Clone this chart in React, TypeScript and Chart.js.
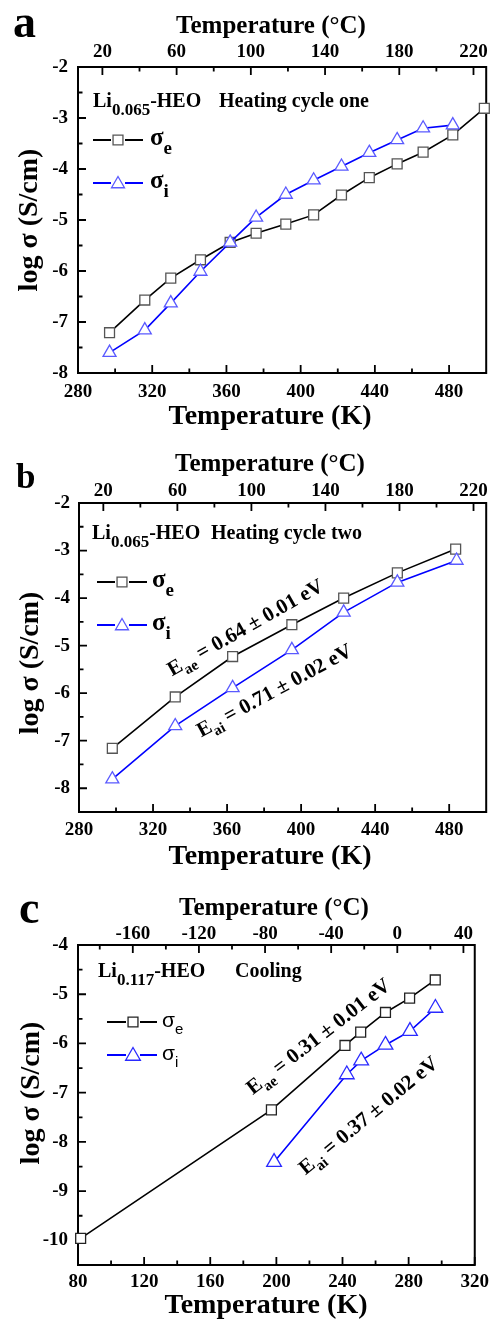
import React, { useEffect, useRef } from 'react';
import { Chart, registerables } from 'chart.js';

Chart.register(...registerables);

const SERIF = '"Liberation Serif", "Times New Roman", serif';
const SANS = '"Liberation Sans", Arial, sans-serif';
const W = 495;

// ---------- Panel a : Li0.065-HEO heating cycle one ----------
const aTempE = [297, 316, 330, 346, 362, 376, 392, 407, 422, 437, 452, 466, 482, 499];
const aLogSigmaE = [-7.21, -6.57, -6.14, -5.78, -5.44, -5.26, -5.08, -4.9, -4.51, -4.17, -3.9, -3.67, -3.33, -2.81];
const aTempI = [297, 316, 330, 346, 362, 376, 392, 407, 422, 437, 452, 466, 482];
const aLogSigmaI = [-7.6, -7.16, -6.63, -6.01, -5.44, -4.95, -4.5, -4.22, -3.95, -3.68, -3.43, -3.2, -3.14];

// ---------- Panel b : Li0.065-HEO heating cycle two ----------
const bTempE = [298, 332, 363, 395, 423, 452, 483.5];
const bLogSigmaE = [-7.16, -6.08, -5.23, -4.56, -4.0, -3.47, -2.97];
const bTempI = [298, 332, 363, 395, 423, 452, 484];
const bLogSigmaI = [-7.81, -6.69, -5.89, -5.09, -4.3, -3.67, -3.21];

// ---------- Panel c : Li0.117-HEO cooling ----------
const cTempE = [81.6, 197, 241.5, 251, 266, 280.6, 296.1];
const cLogSigmaE = [-9.96, -7.35, -6.04, -5.77, -5.37, -5.08, -4.71];
const cTempI = [198.6, 242.6, 251.3, 266, 280.8, 296.2];
const cLogSigmaI = [-8.41, -6.63, -6.35, -6.03, -5.75, -5.28];

// ---------- Tick values ----------
const kMajorAB = [280, 320, 360, 400, 440, 480];
const kMinorAB = [300, 340, 380, 420, 460];
const degMajorAB = [20, 60, 100, 140, 180, 220];
const degMinorAB = [40, 80, 120, 160, 200];
const yMajorAB = [-2, -3, -4, -5, -6, -7, -8];
const yMinorA = [-2.5, -3.5, -4.5, -5.5, -6.5, -7.5];
const yMinorB = [-2.5, -3.5, -4.5, -5.5, -6.5, -7.5];
const kMajorC = [80, 120, 160, 200, 240, 280, 320];
const kMinorC = [100, 140, 180, 220, 260, 300];
const degMajorC = [-160, -120, -80, -40, 0, 40];
const degMinorC = [-180, -140, -100, -60, -20, 20];
const yMajorC = [-4, -5, -6, -7, -8, -9, -10];
const yMinorC = [-4.5, -5.5, -6.5, -7.5, -8.5, -9.5];

type Seg = { t: string; size: number; dy?: number; family?: string; weight?: string };
type Anno = { segs: Seg[]; x: number; y: number; angle: number; cap: number };

type Panel = {
  pageTop: number;
  height: number;
  area: { left: number; top: number; right: number; bottom: number };
  xMin: number; xMax: number; yMin: number; yMax: number;
  kMajor: number[]; kMinor: number[]; degMajor: number[]; degMinor: number[];
  yMajor: number[]; yMinor: number[];
  pad: { top: number; bottom: number; left: number };
  eX: number[]; eY: number[]; iX: number[]; iY: number[];
  sqColor: string; triColor: string; triR: number;
  letter: string; letterSize: number; letterX: number; letterY: number;
  topTitleX: number; topTitleY: number;
  botTitleX: number; botTitleY: number;
  yTitleX: number; yTitleY: number;
  legTitle: Seg[]; legTitleX: number; legTitleY: number;
  legTitle2: string; legTitle2X: number;
  legend: { x1: number; x2: number; mx: number; tx: number; yE: number; yI: number; sans: boolean };
  annos: Anno[];
};

const fontOf = (s: Seg) => `${s.weight ?? 'bold'} ${s.size}px ${s.family ?? SERIF}`;

function drawRich(ctx: CanvasRenderingContext2D, segs: Seg[], x: number, y: number, center: boolean) {
  const widths = segs.map((s) => {
    ctx.font = fontOf(s);
    return ctx.measureText(s.t).width;
  });
  const total = widths.reduce((a, b) => a + b, 0);
  let cx = center ? x - total / 2 : x;
  ctx.textAlign = 'left';
  ctx.textBaseline = 'alphabetic';
  segs.forEach((s, i) => {
    ctx.font = fontOf(s);
    ctx.fillText(s.t, cx, y + (s.dy ?? 0));
    cx += widths[i];
  });
}

function drawSquare(ctx: CanvasRenderingContext2D, x: number, y: number, r: number, color: string) {
  const h = r * Math.SQRT1_2;
  ctx.fillStyle = '#fff';
  ctx.strokeStyle = color;
  ctx.lineWidth = 1.3;
  ctx.beginPath();
  ctx.rect(x - h, y - h, 2 * h, 2 * h);
  ctx.fill();
  ctx.stroke();
}

function drawTriangle(ctx: CanvasRenderingContext2D, x: number, y: number, r: number, color: string) {
  ctx.fillStyle = '#fff';
  ctx.strokeStyle = color;
  ctx.lineWidth = 1.3;
  ctx.beginPath();
  ctx.moveTo(x, y - r);
  ctx.lineTo(x + r * Math.sin((2 * Math.PI) / 3), y + r / 2);
  ctx.lineTo(x - r * Math.sin((2 * Math.PI) / 3), y + r / 2);
  ctx.closePath();
  ctx.fill();
  ctx.stroke();
}

const eaSeg = (sub: string, rest: string): Seg[] => [
  { t: 'E', size: 21 },
  { t: sub, size: 15, dy: 6 },
  { t: rest, size: 21 },
];

const panels: Panel[] = [
  {
    pageTop: 0, height: 435,
    area: { left: 78, top: 67, right: 488, bottom: 373 },
    xMin: 280, xMax: 500, yMin: -8, yMax: -2,
    kMajor: kMajorAB, kMinor: kMinorAB, degMajor: degMajorAB, degMinor: degMinorAB,
    yMajor: yMajorAB, yMinor: yMinorA,
    pad: { top: 4, bottom: 8, left: 10 },
    eX: aTempE, eY: aLogSigmaE, iX: aTempI, iY: aLogSigmaI,
    sqColor: '#555', triColor: '#5a5aff', triR: 7.5,
    letter: 'a', letterSize: 46, letterX: 13, letterY: 37,
    topTitleX: 271, topTitleY: 33, botTitleX: 270, botTitleY: 424,
    yTitleX: 28, yTitleY: 220,
    legTitle: [{ t: 'Li', size: 20 }, { t: '0.065', size: 17, dy: 8 }, { t: '-HEO', size: 20 }],
    legTitleX: 93, legTitleY: 107, legTitle2: 'Heating cycle one', legTitle2X: 219,
    legend: { x1: 93, x2: 143, mx: 118, tx: 150, yE: 140, yI: 183, sans: false },
    annos: [],
  },
  {
    pageTop: 435, height: 435,
    area: { left: 79, top: 68, right: 490, bottom: 377 },
    xMin: 280, xMax: 500, yMin: -8.5, yMax: -2,
    kMajor: kMajorAB, kMinor: kMinorAB, degMajor: degMajorAB, degMinor: degMinorAB,
    yMajor: yMajorAB, yMinor: yMinorB,
    pad: { top: 1, bottom: 7, left: 9 },
    eX: bTempE, eY: bLogSigmaE, iX: bTempI, iY: bLogSigmaI,
    sqColor: '#555', triColor: '#5a5aff', triR: 7.5,
    letter: 'b', letterSize: 35, letterX: 16, letterY: 53,
    topTitleX: 270, topTitleY: 36, botTitleX: 270, botTitleY: 429,
    yTitleX: 29, yTitleY: 228,
    legTitle: [{ t: 'Li', size: 20 }, { t: '0.065', size: 17, dy: 8 }, { t: '-HEO', size: 20 }],
    legTitleX: 92, legTitleY: 104, legTitle2: 'Heating cycle two', legTitle2X: 211,
    legend: { x1: 97, x2: 147, mx: 122, tx: 152, yE: 147, yI: 190, sans: false },
    annos: [
      { segs: eaSeg('ae', ' = 0.64 \u00b1 0.01 eV'), x: 245, y: 192, angle: -29.6, cap: 7 },
      { segs: eaSeg('ai', ' = 0.71 \u00b1 0.02 eV'), x: 274, y: 255, angle: -28.5, cap: 7 },
    ],
  },
  {
    pageTop: 870, height: 449,
    area: { left: 78, top: 75, right: 479, bottom: 395 },
    xMin: 80, xMax: 320, yMin: -10.5, yMax: -4,
    kMajor: kMajorC, kMinor: kMinorC, degMajor: degMajorC, degMinor: degMinorC,
    yMajor: yMajorC, yMinor: yMinorC,
    pad: { top: 0, bottom: 6, left: 10 },
    eX: cTempE, eY: cLogSigmaE, iX: cTempI, iY: cLogSigmaI,
    sqColor: '#222', triColor: '#2a2aff', triR: 8.5,
    letter: 'c', letterSize: 46, letterX: 19, letterY: 53,
    topTitleX: 274, topTitleY: 45, botTitleX: 266, botTitleY: 443,
    yTitleX: 30, yTitleY: 223,
    legTitle: [{ t: 'Li', size: 20 }, { t: '0.117', size: 17, dy: 8 }, { t: '-HEO', size: 20 }],
    legTitleX: 98, legTitleY: 107, legTitle2: 'Cooling', legTitle2X: 235,
    legend: { x1: 107, x2: 157, mx: 133, tx: 162, yE: 152, yI: 185, sans: true },
    annos: [
      { segs: eaSeg('ae', ' = 0.31 \u00b1 0.01 eV'), x: 318, y: 166, angle: -37.7, cap: 7 },
      { segs: eaSeg('ai', ' = 0.37 \u00b1 0.02 eV'), x: 368, y: 245, angle: -39.5, cap: 7 },
    ],
  },
];

function PanelChart({ p }: { p: Panel }) {
  const ref = useRef<HTMLCanvasElement>(null);
  useEffect(() => {
    const canvas = ref.current;
    if (!canvas) return;
    const tickFont = { family: SERIF, size: 19, weight: 'bold' as const };
    const noGrid = { display: false, drawTicks: false, tickLength: 0 };

    const framePlugin = {
      id: 'frame' + p.letter,
      beforeDatasetsDraw(chart: any) {
        const ctx: CanvasRenderingContext2D = chart.ctx;
        const a = chart.chartArea;
        const xs = chart.scales.x;
        const x2 = chart.scales.x2;
        const ys = chart.scales.y;
        ctx.save();
        ctx.strokeStyle = '#000';
        ctx.lineWidth = 2;
        ctx.strokeRect(a.left, a.top, a.right - a.left, a.bottom - a.top);
        ctx.lineWidth = 1.8;
        ctx.beginPath();
        const vt = (px: number, y0: number, len: number) => {
          ctx.moveTo(px, y0);
          ctx.lineTo(px, y0 + len);
        };
        p.kMajor.forEach((v) => vt(xs.getPixelForValue(v), a.bottom, -8));
        p.kMinor.forEach((v) => vt(xs.getPixelForValue(v), a.bottom, -4.5));
        p.degMajor.forEach((v) => vt(x2.getPixelForValue(v), a.top, 8));
        p.degMinor.forEach((v) => vt(x2.getPixelForValue(v), a.top, 4.5));
        p.yMajor.forEach((v) => {
          const py = ys.getPixelForValue(v);
          ctx.moveTo(a.left, py);
          ctx.lineTo(a.left + 8, py);
        });
        p.yMinor.forEach((v) => {
          const py = ys.getPixelForValue(v);
          ctx.moveTo(a.left, py);
          ctx.lineTo(a.left + 4.5, py);
        });
        ctx.stroke();
        ctx.restore();
      },
      afterDraw(chart: any) {
        const ctx: CanvasRenderingContext2D = chart.ctx;
        ctx.save();
        ctx.fillStyle = '#000';
        // panel letter
        drawRich(ctx, [{ t: p.letter, size: p.letterSize }], p.letterX, p.letterY, false);
        // axis titles
        drawRich(ctx, [{ t: 'Temperature (\u00b0C)', size: 25 }], p.topTitleX, p.topTitleY, true);
        drawRich(ctx, [{ t: 'Temperature (K)', size: 28 }], p.botTitleX, p.botTitleY, true);
        ctx.save();
        ctx.translate(p.yTitleX, p.yTitleY);
        ctx.rotate(-Math.PI / 2);
        drawRich(ctx, [{ t: 'log \u03c3 (S/cm)', size: 28 }], 0, 9, true);
        ctx.restore();
        // legend title
        ctx.fillStyle = '#000';
        drawRich(ctx, p.legTitle, p.legTitleX, p.legTitleY, false);
        drawRich(ctx, [{ t: p.legTitle2, size: 20 }], p.legTitle2X, p.legTitleY, false);
        // legend entries
        const L = p.legend;
        const drawEntry = (y: number, color: string, kind: 'e' | 'i') => {
          ctx.strokeStyle = color;
          ctx.lineWidth = 1.8;
          ctx.beginPath();
          ctx.moveTo(L.x1, y);
          ctx.lineTo(L.mx - 7, y);
          ctx.moveTo(L.mx + 7, y);
          ctx.lineTo(L.x2, y);
          ctx.stroke();
          if (kind === 'e') drawSquare(ctx, L.mx, y, 7, p.sqColor);
          else drawTriangle(ctx, L.mx, y + 1, p.triR, p.triColor);
          ctx.fillStyle = '#000';
          if (L.sans) {
            drawRich(ctx, [
              { t: '\u03c3', size: 21, family: SANS, weight: 'normal' },
              { t: kind, size: 15, dy: 7, family: SANS, weight: 'normal' },
            ], L.tx, y + 5, false);
          } else {
            drawRich(ctx, [
              { t: '\u03c3', size: 25 },
              { t: kind, size: 19, dy: 9 },
            ], L.tx, y + 5, false);
          }
        };
        drawEntry(L.yE, '#000', 'e');
        drawEntry(L.yI, '#0000ff', 'i');
        // annotations
        p.annos.forEach((an) => {
          ctx.save();
          ctx.translate(an.x, an.y);
          ctx.rotate((an.angle * Math.PI) / 180);
          ctx.fillStyle = '#000';
          drawRich(ctx, an.segs, 0, an.cap, true);
          ctx.restore();
        });
        ctx.restore();
      },
    };

    const chart = new Chart(canvas, {
      type: 'scatter',
      data: {
        datasets: [
          {
            label: '\u03c3i',
            data: p.iX.map((v, i) => ({ x: v, y: p.iY[i] })),
            showLine: true,
            borderColor: '#0000ff',
            borderWidth: 1.6,
            pointStyle: 'triangle',
            pointRadius: p.triR,
            pointHoverRadius: p.triR,
            pointBorderColor: p.triColor,
            pointBackgroundColor: '#fff',
            pointBorderWidth: 1.3,
            tension: 0,
            clip: false,
          } as any,
          {
            label: '\u03c3e',
            data: p.eX.map((v, i) => ({ x: v, y: p.eY[i] })),
            showLine: true,
            borderColor: '#000',
            borderWidth: 1.6,
            pointStyle: 'rect',
            pointRadius: 7,
            pointHoverRadius: 7,
            pointBorderColor: p.sqColor,
            pointBackgroundColor: '#fff',
            pointBorderWidth: 1.3,
            tension: 0,
            clip: false,
          } as any,
        ],
      },
      options: {
        responsive: false,
        maintainAspectRatio: false,
        animation: false,
        devicePixelRatio: 1,
        events: [],
        layout: { padding: { left: 0, top: 0, bottom: 0, right: W - p.area.right } },
        plugins: { legend: { display: false }, tooltip: { enabled: false } },
        scales: {
          x: {
            type: 'linear',
            position: 'bottom',
            min: p.xMin,
            max: p.xMax,
            grid: noGrid,
            border: { display: false },
            ticks: {
              font: tickFont,
              color: '#000',
              padding: p.pad.bottom,
              maxRotation: 0,
              autoSkip: false,
              callback: (v: any) => String(v),
            },
            afterBuildTicks: (s: any) => {
              s.ticks = p.kMajor.map((v) => ({ value: v }));
            },
            afterFit: (s: any) => {
              s.height = p.height - p.area.bottom;
            },
          },
          x2: {
            type: 'linear',
            position: 'top',
            min: p.xMin - 273.15,
            max: p.xMax - 273.15,
            grid: noGrid,
            border: { display: false },
            ticks: {
              font: tickFont,
              color: '#000',
              padding: p.pad.top,
              maxRotation: 0,
              autoSkip: false,
              callback: (v: any) => String(v),
            },
            afterBuildTicks: (s: any) => {
              s.ticks = p.degMajor.map((v) => ({ value: v }));
            },
            afterFit: (s: any) => {
              s.height = p.area.top;
            },
          },
          y: {
            type: 'linear',
            position: 'left',
            min: p.yMin,
            max: p.yMax,
            grid: noGrid,
            border: { display: false },
            ticks: {
              font: tickFont,
              color: '#000',
              padding: p.pad.left,
              autoSkip: false,
              callback: (v: any) => String(v),
            },
            afterBuildTicks: (s: any) => {
              s.ticks = p.yMajor.map((v) => ({ value: v }));
            },
            afterFit: (s: any) => {
              s.width = p.area.left;
            },
          },
        },
      } as any,
      plugins: [framePlugin],
    });
    return () => chart.destroy();
  }, [p]);
  return (
    <canvas
      ref={ref}
      width={W}
      height={p.height}
      style={{ position: 'absolute', left: 0, top: p.pageTop, width: W, height: p.height, display: 'block' }}
    />
  );
}

export default function App() {
  return (
    <div style={{ position: 'absolute', left: 0, top: 0, width: W, height: 1319, background: '#fff', overflow: 'hidden' }}>
      {panels.map((p) => (
        <PanelChart key={p.letter} p={p} />
      ))}
    </div>
  );
}
